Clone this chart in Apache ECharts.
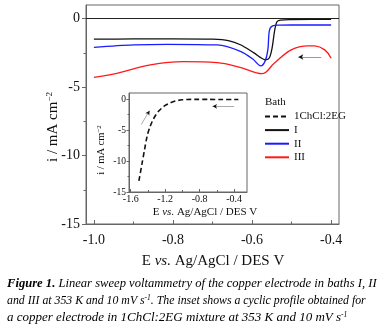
<!DOCTYPE html>
<html>
<head>
<meta charset="utf-8">
<script src="https://cdn.jsdelivr.net/npm/echarts@6/dist/echarts.min.js"></script>
<style>
  html, body { margin: 0; padding: 0; background: #fff; }
  #chart { width: 386px; height: 331px; }
</style>
</head>
<body>
<div id="chart"></div>
<script>
// main plot: i (mA cm-2) vs E (V)
var bathI = [[-1.0,-1.5],[-0.9,-1.48],[-0.8,-1.47],[-0.7,-1.5],[-0.66,-1.6],[-0.628,-1.92],[-0.595,-2.5],[-0.565,-3.0],[-0.556,-2.85],[-0.549,-2.1],[-0.543,-0.9],[-0.537,-0.22],[-0.528,-0.1],[-0.5,-0.06],[-0.45,-0.05],[-0.4,-0.05]]
var bathII = [[-1.0,-2.1],[-0.9,-1.92],[-0.815,-1.87],[-0.688,-1.92],[-0.628,-2.4],[-0.598,-2.95],[-0.578,-3.45],[-0.567,-3.1],[-0.56,-2.28],[-0.556,-0.85],[-0.548,-0.52],[-0.53,-0.47],[-0.5,-0.46],[-0.4,-0.46]]
var bathIII = [[-1.0,-4.28],[-0.942,-3.99],[-0.857,-3.38],[-0.773,-3.14],[-0.688,-3.21],[-0.628,-3.58],[-0.575,-4.02],[-0.544,-3.26],[-0.501,-2.28],[-0.459,-1.98],[-0.442,-1.99],[-0.416,-2.28],[-0.4,-2.89]]
// inset: 1ChCl:2EG cyclic profile
var insetEG = [[-1.505,-13.2],[-1.47,-10.5],[-1.44,-8.2],[-1.41,-6.0],[-1.38,-4.6],[-1.35,-3.6],[-1.32,-2.8],[-1.28,-2.0],[-1.24,-1.45],[-1.2,-1.0],[-1.15,-0.65],[-1.1,-0.38],[-1.05,-0.2],[-1.0,-0.1],[-0.95,-0.05],[-0.85,-0.03],[-0.7,-0.03],[-0.55,-0.05],[-0.4,-0.05],[-0.35,-0.05]]

var mainXTicks = [-1.0, -0.8, -0.6, -0.4]
var mainXMinor = [-0.9, -0.7, -0.5]
var mainYTicks = [-15, -10, -5, 0]
var mainYMinor = [-12.5, -7.5, -2.5]
var insetXTicks = [-1.6, -1.2, -0.8, -0.4]
var insetXMinor = [-1.4, -1.0, -0.6]
var insetYTicks = [-15, -10, -5, 0]
var insetYMinor = [-12.5, -7.5, -2.5]

// sweep direction arrows [tail, head]
var mainArrow = [[-0.425, -2.8], [-0.483, -2.8]]
var insetArrowH = [[-0.40, -1.15], [-0.65, -1.15]]
var insetArrowD = [[-1.478, -4.1], [-1.381, -1.85]]

var serif = '"Liberation Serif", "DejaVu Serif", serif'
var axisGray = '#666'

function xAx(grid, min, max, vals, len, showLabel, size, margin) {
  return {
    type: 'value', gridIndex: grid, min: min, max: max, position: 'bottom',
    axisLine: { show: showLabel, onZero: false, lineStyle: { color: axisGray, width: 1 } },
    axisTick: { inside: true, length: len, customValues: vals, lineStyle: { color: axisGray } },
    axisLabel: { show: showLabel, customValues: vals, margin: margin, fontFamily: serif, fontSize: size, color: '#111',
      formatter: function (v) { return v.toFixed(1) } },
    splitLine: { show: false }
  }
}
function yAx(grid, min, max, vals, len, showLabel, size, margin) {
  return {
    type: 'value', gridIndex: grid, min: min, max: max, position: 'left',
    axisLine: { show: showLabel, onZero: false, lineStyle: { color: axisGray, width: 1 } },
    axisTick: { inside: false, length: len, customValues: vals, lineStyle: { color: axisGray } },
    axisLabel: { show: showLabel, customValues: vals, margin: margin, fontFamily: serif, fontSize: size, color: '#111',
      formatter: function (v) { return String(v) } },
    splitLine: { show: false }
  }
}

function arrowLine(pts, color) {
  return [{ coord: pts[0], lineStyle: { color: color, width: 1, type: 'solid' } }, { coord: pts[1] }]
}
function headAngle(pts, sx, sy) {
  var dx = (pts[1][0] - pts[0][0]) * sx, dy = (pts[1][1] - pts[0][1]) * sy
  return Math.atan2(dx, dy) * -180 / Math.PI
}

// caption text, one style per line (the printed caption is justified)
function capStyle(size, bold) {
  return { fontFamily: serif, fontSize: size, fontStyle: 'italic', fontWeight: bold ? 'bold' : 'normal', color: '#1e1e40' }
}
var captionSup = { fontFamily: serif, fontSize: 7.5, fontStyle: 'italic', color: '#1e1e40', verticalAlign: 'top', padding: [0, 0, 5, 0] }

var chart = echarts.init(document.getElementById('chart'))
var option = {
  animation: false,
  backgroundColor: '#fff',
  grid: [
    { left: 86, top: 5, width: 253, height: 219, show: true, borderColor: axisGray, borderWidth: 1 },
    { left: 129, top: 93, width: 118, height: 99, show: true, borderColor: axisGray, borderWidth: 1, backgroundColor: '#fff' }
  ],
  xAxis: [
    xAx(0, -1.02, -0.38, mainXTicks, 4, true, 14, 9),
    xAx(0, -1.02, -0.38, mainXMinor, 2.5, false, 14, 9),
    xAx(1, -1.62, -0.25, insetXTicks, 3, true, 10, 2),
    xAx(1, -1.62, -0.25, insetXMinor, 2, false, 10, 2)
  ],
  yAxis: [
    yAx(0, -15, 1, mainYTicks, 4, true, 14, 6),
    yAx(0, -15, 1, mainYMinor, 2.5, false, 14, 6),
    yAx(1, -15, 1, insetYTicks, 2.5, true, 9.5, 3),
    yAx(1, -15, 1, insetYMinor, 1.5, false, 9.5, 3)
  ],
  legend: {
    orient: 'vertical', left: 259, top: 106,
    itemWidth: 24, itemHeight: 9, itemGap: 2.6,
    itemStyle: { opacity: 0 },
    textStyle: { fontFamily: serif, fontSize: 11, color: '#111' },
    data: ['1ChCl:2EG', 'I', 'II', 'III']
  },
  series: [
    {
      name: 'I', type: 'line', xAxisIndex: 0, yAxisIndex: 0, data: bathI,
      smooth: 0.3, symbol: 'none', lineStyle: { color: '#111', width: 1.3 }, itemStyle: { color: '#111' },
      markLine: { silent: true, symbol: 'none', label: { show: false },
        lineStyle: { color: '#222', width: 1, type: 'solid' }, data: [{ yAxis: 0 }] }
    },
    {
      name: 'II', type: 'line', xAxisIndex: 0, yAxisIndex: 0, data: bathII,
      smooth: 0.3, symbol: 'none', lineStyle: { color: '#1a1aff', width: 1.3 }, itemStyle: { color: '#1a1aff' }
    },
    {
      name: 'III', type: 'line', xAxisIndex: 0, yAxisIndex: 0, data: bathIII,
      smooth: 0.4, symbol: 'none', lineStyle: { color: '#ff1a1a', width: 1.3 }, itemStyle: { color: '#ff1a1a' },
      markLine: { silent: true, symbol: 'none', label: { show: false }, data: [arrowLine(mainArrow, '#999')] },
      markPoint: { silent: true, symbol: 'arrow', symbolSize: [4, 5], label: { show: false }, itemStyle: { color: '#111', opacity: 1 },
        data: [{ coord: mainArrow[1], symbolRotate: headAngle(mainArrow, 393, 13.7) }] }
    },
    {
      name: '1ChCl:2EG', type: 'line', xAxisIndex: 2, yAxisIndex: 2, data: insetEG,
      smooth: 0.3, symbol: 'none', lineStyle: { color: '#111', width: 1.6, type: [5, 3] }, itemStyle: { color: '#111' },
      markLine: { silent: true, symbol: 'none', label: { show: false },
        data: [
          [{ yAxis: 0, lineStyle: { color: '#888', width: 1, type: 'solid' } }, { yAxis: 0, x: 247 }],
          arrowLine(insetArrowH, '#aaa'),
          arrowLine(insetArrowD, '#aaa')
        ] },
      markPoint: { silent: true, symbol: 'arrow', symbolSize: [3.5, 4.5], label: { show: false }, itemStyle: { color: '#111', opacity: 1 },
        data: [
          { coord: insetArrowH[1], symbolRotate: headAngle(insetArrowH, 85.8, 6.19) },
          { coord: insetArrowD[1], symbolRotate: headAngle(insetArrowD, 85.8, 6.19) }
        ] }
    }
  ],
  graphic: [
    { type: 'text', x: 53, y: 127, rotation: Math.PI / 2,
      style: { text: '{n|i / mA cm}{s|−2}', textAlign: 'center', textVerticalAlign: 'middle', fill: '#111',
        rich: { n: { fontFamily: serif, fontSize: 15, color: '#111' }, s: { fontFamily: serif, fontSize: 9, color: '#111', verticalAlign: 'top', padding: [0, 0, 6, 0] } } } },
    { type: 'text', x: 213, y: 261,
      style: { text: '{n|E }{i|vs.}{n| Ag/AgCl / DES V}', textAlign: 'center', textVerticalAlign: 'middle', fill: '#111',
        rich: { n: { fontFamily: serif, fontSize: 15, color: '#111' }, i: { fontFamily: serif, fontSize: 15, fontStyle: 'italic', color: '#111' } } } },
    { type: 'text', x: 101, y: 150, rotation: Math.PI / 2,
      style: { text: '{n|i / mA cm}{s|−2}', textAlign: 'center', textVerticalAlign: 'middle', fill: '#111',
        rich: { n: { fontFamily: serif, fontSize: 10.5, color: '#111' }, s: { fontFamily: serif, fontSize: 7, color: '#111', verticalAlign: 'top', padding: [0, 0, 4, 0] } } } },
    { type: 'text', x: 205, y: 212,
      style: { text: '{n|E }{i|vs.}{n| Ag/AgCl / DES V}', textAlign: 'center', textVerticalAlign: 'middle', fill: '#111',
        rich: { n: { fontFamily: serif, fontSize: 11, color: '#111' }, i: { fontFamily: serif, fontSize: 11, fontStyle: 'italic', color: '#111' } } } },
    { type: 'text', x: 265, y: 102,
      style: { text: 'Bath', textAlign: 'left', textVerticalAlign: 'middle', fill: '#111', font: '11px ' + serif } },
    { type: 'text', x: 7, y: 284,
      style: { text: '{b|Figure 1.}{t| Linear sweep voltammetry of the copper electrode in baths I, II}', textAlign: 'left', textVerticalAlign: 'middle',
        rich: { b: capStyle(12.6, true), t: capStyle(12.6, false) } } },
    { type: 'text', x: 7, y: 301,
      style: { text: '{t|and III at 353 K and 10 mV s}{s|-1}{t|. The inset shows a cyclic profile obtained for}', textAlign: 'left', textVerticalAlign: 'middle',
        rich: { t: capStyle(11.8, false), s: captionSup } } },
    { type: 'text', x: 7, y: 318,
      style: { text: '{t|a copper electrode in 1ChCl:2EG mixture at 353 K and 10 mV s}{s|-1}', textAlign: 'left', textVerticalAlign: 'middle',
        rich: { t: capStyle(13, false), s: captionSup } } }
  ]
}
chart.setOption(option)
</script>
</body>
</html>
